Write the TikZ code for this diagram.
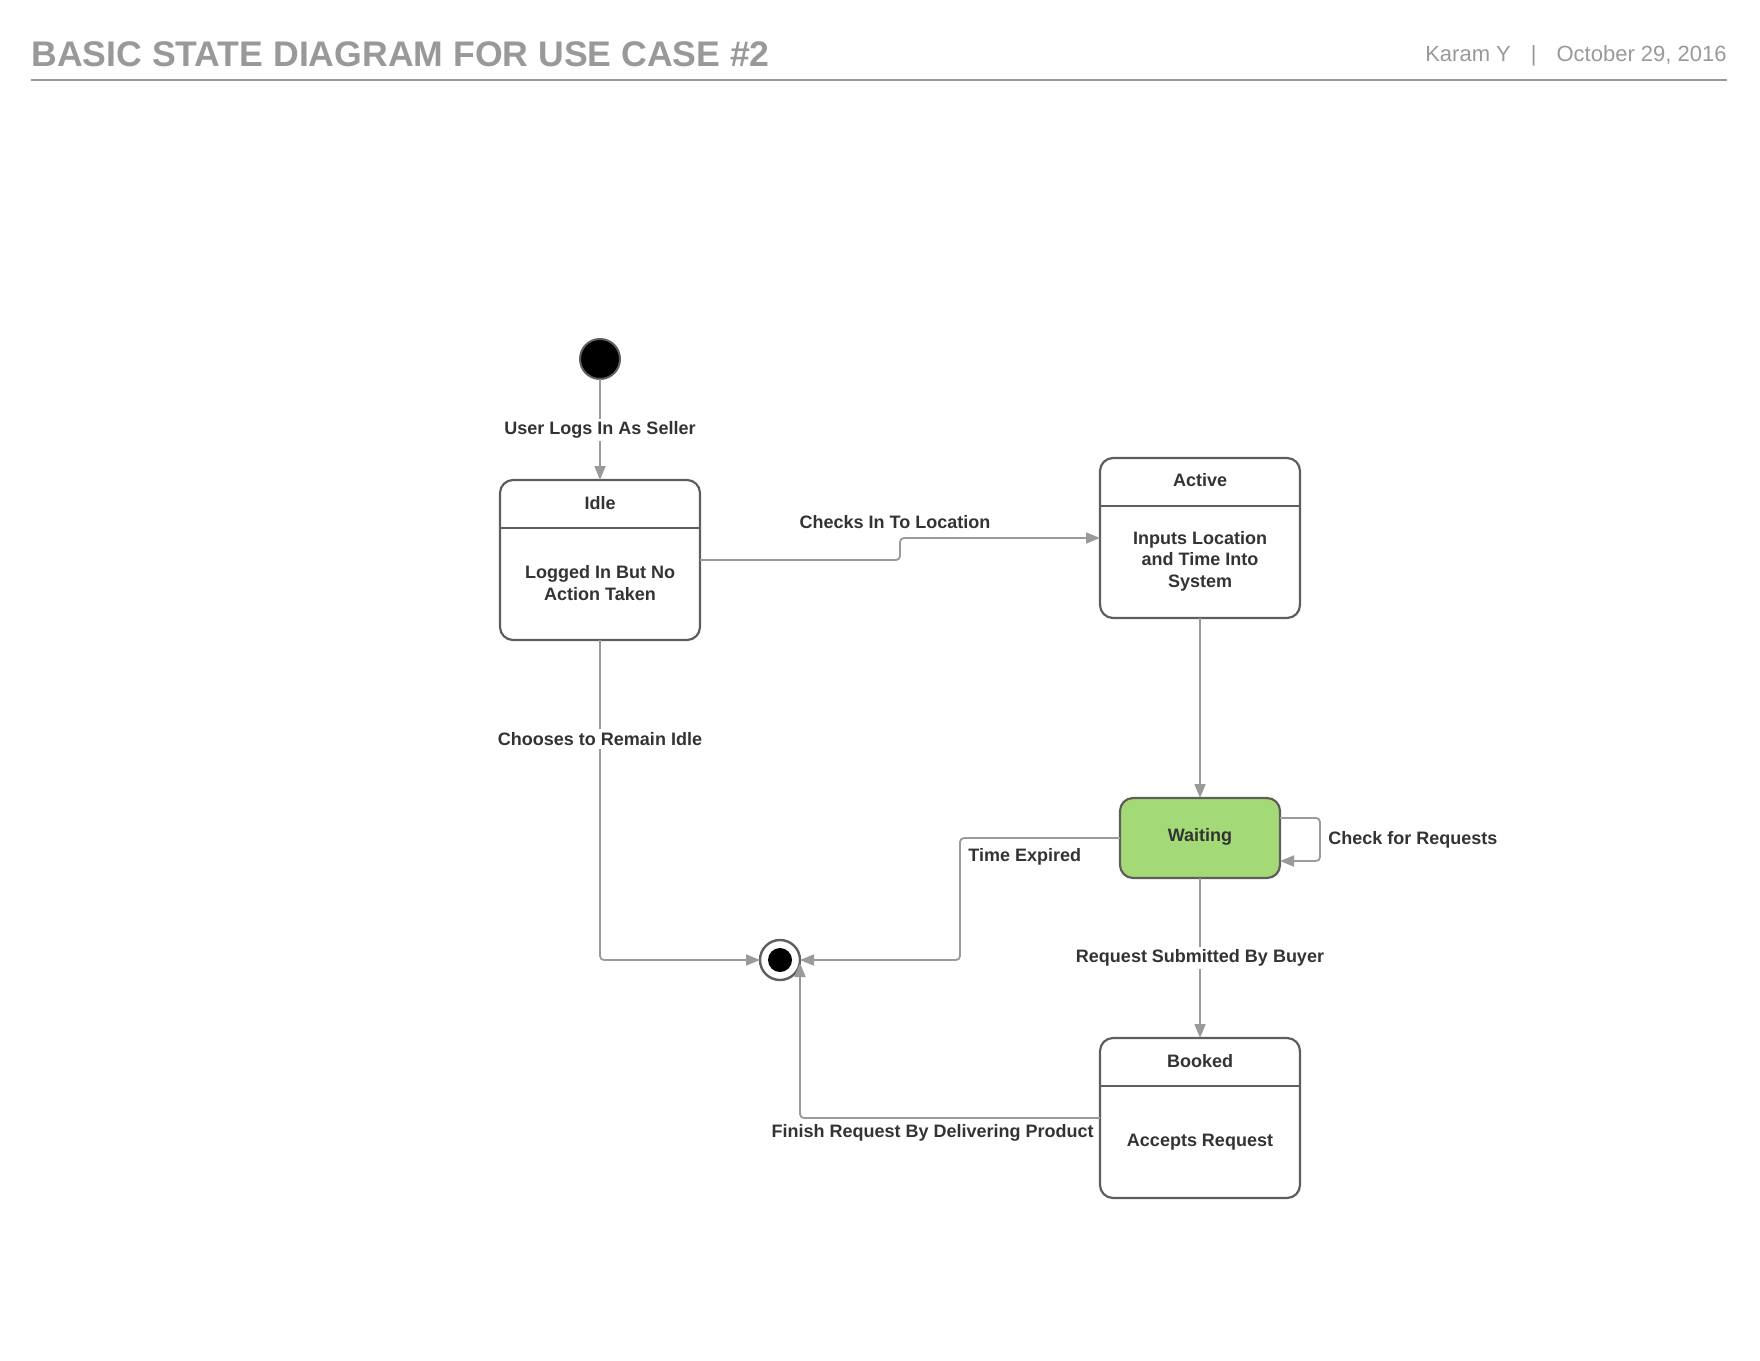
\documentclass[tikz,border=0pt]{standalone}
\usepackage{fontspec}
\setmainfont{Liberation Sans}
\usetikzlibrary{arrows.meta,calc}
\definecolor{titlegray}{HTML}{999999}
\definecolor{linegray}{HTML}{9A9A9A}
\definecolor{boxline}{HTML}{5E5E5E}
\definecolor{txt}{HTML}{333333}
\definecolor{waitgreen}{HTML}{A3D977}
\begin{document}
\begin{tikzpicture}[x=0.5pt,y=-0.5pt,
  state/.style={draw=boxline, line width=1.1pt, rounded corners=6.5pt, fill=white,
    minimum width=100pt, minimum height=80pt, inner sep=0pt, outer sep=0pt},
  divider/.style={draw=boxline, line width=1.1pt},
  lbl/.style={font=\fontsize{9}{10.7}\selectfont\bfseries, text=txt, align=center, inner sep=1.5pt},
  onlbl/.style={lbl, fill=white},
  conn/.style={draw=linegray, line width=0.9pt, -{Triangle[length=7pt,width=5.5pt]}, rounded corners=2pt},
]
\useasboundingbox (0,0) rectangle (1760,1360);

% header
\node[anchor=base west, inner sep=0pt, text=titlegray, font=\fontsize{17.8}{20}\selectfont\bfseries] (title) at (31,66) {BASIC STATE DIAGRAM FOR USE CASE \#2};
\node[anchor=base east, inner sep=0pt, text=titlegray, font=\fontsize{11}{13}\selectfont] (meta) at (1727,61) {Karam Y\hspace{10pt}|\hspace{10pt}October 29, 2016};
\draw[titlegray, line width=1pt] (31,80) -- (1727,80);

% states
\node[circle, fill=black, draw=boxline, line width=1pt, minimum size=20pt, inner sep=0pt, outer sep=0pt] (init) at (600,359) {};

\node[state] (idle) at (600,560) {};
\draw[divider] ($(idle.north west)+(0,48)$) -- ($(idle.north east)+(0,48)$);
\node[lbl] (idlet) at (600,503) {Idle};
\node[lbl] (idleb) at (600,583) {Logged In But No\\Action Taken};

\node[state] (active) at (1200,538) {};
\draw[divider] ($(active.north west)+(0,48)$) -- ($(active.north east)+(0,48)$);
\node[lbl] (activet) at (1200,480) {Active};
\node[lbl] (activeb) at (1200,561) {Inputs Location\\and Time Into\\System};

\node[state, fill=waitgreen, minimum width=80pt, minimum height=40pt] (waiting) at (1200,838) {};
\node[lbl] (waitingt) at (1200,837) {Waiting};

\node[state] (booked) at (1200,1118) {};
\draw[divider] ($(booked.north west)+(0,48)$) -- ($(booked.north east)+(0,48)$);
\node[lbl] (bookedt) at (1200,1061) {Booked};
\node[lbl] (bookedb) at (1200,1142) {Accepts Request};

\node[circle, draw=boxline, fill=white, line width=1.2pt, minimum size=20pt, inner sep=0pt, outer sep=0pt] (final) at (780,960) {};
\node[circle, fill=black, minimum size=12pt, inner sep=0pt] (finalin) at (final.center) {};

% connectors
\draw[conn] (init) -- (idle);
\node[onlbl] (l1) at (600,430) {User Logs In As Seller};

\draw[conn] (idle.east) -- ++(200,0) |- (active.west);
\node[lbl] (l2) at (895,522) {Checks In To Location};

\draw[conn] (active) -- (waiting);

\draw[conn] (idle.south) |- (final.west);
\node[onlbl] (l3) at (600,739) {Chooses to Remain Idle};

\draw[conn] (waiting.west) -- ++(-160,0) |- (final.east);
\node[lbl, anchor=west] (l4) at (965,857) {Time Expired};

\draw[conn] ($(waiting.east)+(0,-20)$) -- ++(40,0) -- ++(0,43) -- ($(waiting.east)+(0,23)$);
\node[lbl, anchor=west] (l5) at (1325,840) {Check for Requests};

\draw[conn] (waiting) -- (booked);
\node[onlbl] (l6) at (1200,958) {Request Submitted By Buyer};

\draw[conn] (booked.west) -| ($(final.east)+(0,3)$);
\node[lbl, anchor=east] (l7) at (1097,1133) {Finish Request By Delivering Product};
\end{tikzpicture}
\end{document}
